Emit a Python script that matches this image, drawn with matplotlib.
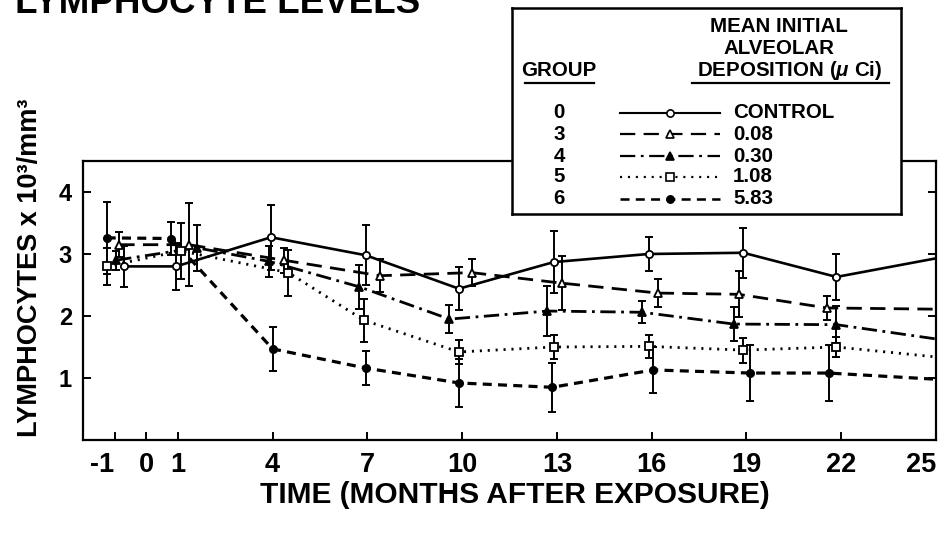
import matplotlib
matplotlib.use("Agg")
import matplotlib.pyplot as plt
from matplotlib.lines import Line2D

# ---- data: lymphocyte counts (x10^3 / mm^3), mean and standard error ----
# sampling times are slightly staggered per group so error bars do not overlap;
# the final value at month 25 is only reached by the connecting line
t_g0 = [-0.7, 0.95, 3.95, 6.95, 9.9, 12.9, 15.9, 18.9, 21.85, 25]
v_g0 = [2.80, 2.80, 3.27, 2.98, 2.44, 2.87, 3.00, 3.02, 2.63, 2.93]
e_g0 = [0.33, 0.38, 0.52, 0.48, 0.35, 0.50, 0.28, 0.40, 0.37]

t_g3 = [-0.85, 1.35, 4.35, 7.4, 10.3, 13.15, 16.2, 18.75, 21.55, 25]
v_g3 = [3.15, 3.15, 2.90, 2.65, 2.70, 2.53, 2.37, 2.35, 2.13, 2.11]
e_g3 = [0.20, 0.67, 0.20, 0.27, 0.22, 0.43, 0.23, 0.37, 0.20]

t_g4 = [-0.95, 1.6, 3.9, 6.75, 9.6, 12.7, 15.7, 18.6, 21.85, 25]
v_g4 = [2.90, 3.10, 2.88, 2.47, 1.95, 2.08, 2.06, 1.87, 1.86, 1.63]
e_g4 = [0.15, 0.37, 0.25, 0.35, 0.23, 0.40, 0.18, 0.27, 0.30]

t_g5 = [-1.25, 1.1, 4.5, 6.9, 9.9, 12.9, 15.9, 18.9, 21.85, 25]
v_g5 = [2.80, 3.05, 2.70, 1.93, 1.42, 1.50, 1.51, 1.45, 1.50, 1.34]
e_g5 = [0.30, 0.45, 0.37, 0.35, 0.19, 0.20, 0.19, 0.20, 0.16]

t_g6 = [-1.25, 0.8, 4.0, 6.95, 9.9, 12.85, 16.05, 19.1, 21.6, 25]
v_g6 = [3.26, 3.25, 1.47, 1.16, 0.92, 0.85, 1.13, 1.08, 1.08, 0.98]
e_g6 = [0.58, 0.27, 0.35, 0.28, 0.38, 0.40, 0.37, 0.45, 0.45]

group_ids = ["0", "3", "4", "5", "6"]
dose_labels = ["CONTROL", "0.08", "0.30", "1.08", "5.83"]
x_ticks = [-1, 0, 1, 4, 7, 10, 13, 16, 19, 22, 25]
y_ticks = [1, 2, 3, 4]

plt.rcParams["lines.scale_dashes"] = False
plt.rcParams["mathtext.fontset"] = "custom"
plt.rcParams["mathtext.it"] = "Liberation Sans:italic:bold"
plt.rcParams["mathtext.rm"] = "Liberation Sans:bold"
BOLD = ["Liberation Sans", "DejaVu Sans"]

styles = [
    dict(ls="-", lw=1.9, marker="o", mfc="white", ms=5.2),
    dict(ls=(0, (11, 6)), lw=2.0, marker="^", mfc="white", ms=6.2),
    dict(ls=(0, (11, 4, 2, 4)), lw=2.0, marker="^", mfc="black", ms=6.2),
    dict(ls=(0, (1.5, 4.2)), lw=2.0, marker="s", mfc="white", ms=5.2),
    dict(ls=(0, (6.5, 4.5)), lw=2.3, marker="o", mfc="black", ms=5.2),
]
series = [(t_g0, v_g0, e_g0), (t_g3, v_g3, e_g3), (t_g4, v_g4, e_g4),
          (t_g5, v_g5, e_g5), (t_g6, v_g6, e_g6)]

fig = plt.figure(figsize=(9.46, 5.37), dpi=100)
W, H = 946.0, 537.0
ax = fig.add_axes([83 / W, 1 - 440 / H, (936 - 83) / W, (440 - 161) / H])

for (t, v, e), st in zip(series, styles):
    ax.plot(t, v, color="black", ls=st["ls"], lw=st["lw"], zorder=2)
    n = len(e)
    ax.errorbar(t[:n], v[:n], yerr=e, fmt="none", ecolor="black",
                elinewidth=1.4, capsize=3.2, capthick=1.4, zorder=3)
    ax.plot(t[:n], v[:n], ls="none", marker=st["marker"], ms=st["ms"],
            mfc=st["mfc"], mec="black", mew=1.3, zorder=4)

ax.set_xlim(-2, 25)
ax.set_ylim(0, 4.5)
ax.set_xticks(x_ticks)
ax.set_xticklabels([str(x) for x in x_ticks])
ax.set_yticks(y_ticks)
ax.set_yticklabels([str(y) for y in y_ticks])
ax.tick_params(axis="both", direction="in", length=6, width=1.4,
               right=True, top=False)
ax.tick_params(axis="x", pad=9)
ax.tick_params(axis="y", pad=8)
xlabels = ax.get_xticklabels()
for lab in xlabels:
    lab.set_fontfamily(BOLD)
    lab.set_fontweight("bold")
    lab.set_fontsize(19.5)
xlabels[0].set_horizontalalignment("right")
xlabels[-1].set_horizontalalignment("right")
for lab in ax.get_yticklabels():
    lab.set_fontfamily(BOLD)
    lab.set_fontweight("bold")
    lab.set_fontsize(17)
for sp in ax.spines.values():
    sp.set_linewidth(1.6)

# axis titles and heading
fig.text(30 / W, 1 - 268 / H, "LYMPHOCYTES x 10³/mm³", rotation=90,
         ha="center", va="center", fontsize=19.5, fontweight="bold",
         family=BOLD)
fig.text(515 / W, 1 - 495 / H, "TIME (MONTHS AFTER EXPOSURE)",
         ha="center", va="center", fontsize=21.5, fontweight="bold",
         family=BOLD)
fig.text(15 / W, 1 - 13 / H, "LYMPHOCYTE LEVELS", ha="left", va="baseline",
         fontsize=26.5, fontweight="bold", family=BOLD)

# key box with group numbers and deposition levels
lax = fig.add_axes([512 / W, 1 - 214 / H, (901 - 512) / W, (214 - 8) / H])
lax.set_zorder(5)
lax.set_facecolor("white")
lax.set_xlim(512, 901)
lax.set_ylim(214, 8)
lax.set_xticks([])
lax.set_yticks([])
for sp in lax.spines.values():
    sp.set_linewidth(1.8)

hdr = dict(fontsize=14.8, fontweight="bold", family=BOLD, ha="center",
           va="center")
lax.text(779, 26, "MEAN INITIAL", **hdr)
lax.text(779, 48, "ALVEOLAR", **hdr)
lax.text(790, 70, r"DEPOSITION ($\mu$ Ci)", **hdr)
lax.text(559, 70, "GROUP", **hdr)
lax.add_line(Line2D([525, 594], [83, 83], color="black", lw=1.6))
lax.add_line(Line2D([692, 889], [83, 83], color="black", lw=1.6))

row_y = [113, 134, 156, 177, 199]
for gid, dose, st, y in zip(group_ids, dose_labels, styles, row_y):
    lax.text(559, y, gid, **hdr)
    lax.add_line(Line2D([620, 720], [y, y], color="black", ls=st["ls"],
                        lw=st["lw"] * 0.8))
    lax.plot([670], [y], ls="none", marker=st["marker"], ms=st["ms"],
             mfc=st["mfc"], mec="black", mew=1.2)
    lax.text(733, y, dose, fontsize=14.8, fontweight="bold", family=BOLD,
             ha="left", va="center")

fig.savefig("out.png", dpi=100)
